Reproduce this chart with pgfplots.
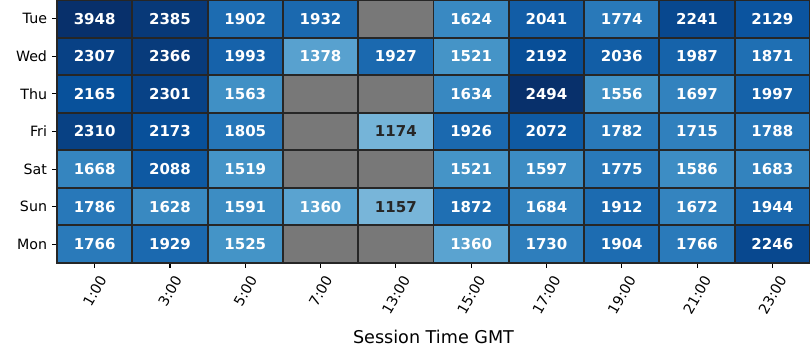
\documentclass[border=0pt]{standalone}
\usepackage{fontspec}
\setmainfont{DejaVu Sans}
\usepackage{graphicx}
\usepackage{pgfplots}
\pgfplotsset{compat=1.18}
\definecolor{gridc}{HTML}{262626}
\definecolor{txtdark}{HTML}{262626}
\pgfplotsset{colormap={bluesx}{
rgb255(0pt)=(247,251,255)
rgb255(30.875pt)=(222,235,247)
rgb255(61.75pt)=(198,219,239)
rgb255(92.625pt)=(158,202,225)
rgb255(123.5pt)=(107,174,214)
rgb255(154.375pt)=(66,146,198)
rgb255(185.25pt)=(33,113,181)
rgb255(216.125pt)=(8,81,156)
rgb255(247pt)=(8,48,107)
rgb255(450pt)=(8,48,107)
rgb255(460pt)=(120,120,120)
rgb255(500pt)=(120,120,120)
}}
\pgfplotstableread{
x y v
0 0 3948
1 0 2385
2 0 1902
3 0 1932
4 0 5000
5 0 1624
6 0 2041
7 0 1774
8 0 2241
9 0 2129
0 1 2307
1 1 2366
2 1 1993
3 1 1378
4 1 1927
5 1 1521
6 1 2192
7 1 2036
8 1 1987
9 1 1871
0 2 2165
1 2 2301
2 2 1563
3 2 5000
4 2 5000
5 2 1634
6 2 2494
7 2 1556
8 2 1697
9 2 1997
0 3 2310
1 3 2173
2 3 1805
3 3 5000
4 3 1174
5 3 1926
6 3 2072
7 3 1782
8 3 1715
9 3 1788
0 4 1668
1 4 2088
2 4 1519
3 4 5000
4 4 5000
5 4 1521
6 4 1597
7 4 1775
8 4 1586
9 4 1683
0 5 1786
1 5 1628
2 5 1591
3 5 1360
4 5 1157
5 5 1872
6 5 1684
7 5 1912
8 5 1672
9 5 1944
0 6 1766
1 6 1929
2 6 1525
3 6 5000
4 6 5000
5 6 1360
6 6 1730
7 6 1904
8 6 1766
9 6 2246
}\heat
\pgfplotstableread{
x y t
0 0 3948
1 0 2385
2 0 1902
3 0 1932
5 0 1624
6 0 2041
7 0 1774
8 0 2241
9 0 2129
0 1 2307
1 1 2366
2 1 1993
3 1 1378
4 1 1927
5 1 1521
6 1 2192
7 1 2036
8 1 1987
9 1 1871
0 2 2165
1 2 2301
2 2 1563
5 2 1634
6 2 2494
7 2 1556
8 2 1697
9 2 1997
0 3 2310
1 3 2173
2 3 1805
5 3 1926
6 3 2072
7 3 1782
8 3 1715
9 3 1788
0 4 1668
1 4 2088
2 4 1519
5 4 1521
6 4 1597
7 4 1775
8 4 1586
9 4 1683
0 5 1786
1 5 1628
2 5 1591
3 5 1360
5 5 1872
6 5 1684
7 5 1912
8 5 1672
9 5 1944
0 6 1766
1 6 1929
2 6 1525
5 6 1360
6 6 1730
7 6 1904
8 6 1766
9 6 2246
}\whitelabels
\pgfplotstableread{
x y t
4 3 1174
4 5 1157
}\darklabels
\begin{document}
\begin{tikzpicture}
\begin{axis}[
  name=ax, scale only axis, width=753bp, height=263bp,
  xmin=-0.5, xmax=9.5, ymin=-0.5, ymax=6.5, y dir=reverse,
  enlargelimits=false, axis on top,
  colormap name=bluesx, point meta min=0, point meta max=5000,
  xtick={0,...,9},
  xticklabels={\rotatebox{60}{1:00},\rotatebox{60}{3:00},\rotatebox{60}{5:00},\rotatebox{60}{7:00},\rotatebox{60}{13:00},\rotatebox{60}{15:00},\rotatebox{60}{17:00},\rotatebox{60}{19:00},\rotatebox{60}{21:00},\rotatebox{60}{23:00}},
  ytick={0,...,6},
  yticklabels={Tue,Wed,Thu,Fri,Sat,Sun,Mon},
  xtick pos=bottom, ytick pos=left,
  tick align=outside, major tick length=4.9bp,
  major tick style={black, line width=1.1bp},
  minor xtick={0.5,1.5,...,8.5}, minor ytick={0.5,1.5,...,5.5},
  minor tick length=0pt,
  xminorgrids, yminorgrids,
  minor grid style={gridc, line width=1.9bp},
  axis line style={gridc, line width=1.9bp},
  tick label style={font=\fontsize{14.2bp}{16bp}\selectfont, black},
  xticklabel style={anchor=north, inner sep=0pt, yshift=-6.5bp},
  yticklabel style={anchor=east, inner sep=0pt, xshift=-4.9bp},
  xlabel={Session Time GMT},
  xlabel style={font=\fontsize{17.6bp}{20bp}\selectfont, at={(axis description cs:0.5,0)}, anchor=base, yshift=-80.5bp},
]
\addplot[matrix plot*, mesh/cols=10, point meta=explicit] table[x=x,y=y,meta=v] {\heat};
\addplot[draw=none, mark=none, nodes near coords, point meta=explicit symbolic,
  every node near coord/.append style={anchor=center, inner sep=0pt, white, font=\fontsize{15bp}{17bp}\selectfont\bfseries}]
  table[x=x,y=y,meta=t] {\whitelabels};
\addplot[draw=none, mark=none, nodes near coords, point meta=explicit symbolic,
  every node near coord/.append style={anchor=center, inner sep=0pt, txtdark, font=\fontsize{15bp}{17bp}\selectfont\bfseries}]
  table[x=x,y=y,meta=t] {\darklabels};
\end{axis}
\pgfresetboundingbox
\path ([shift={(-57bp,-97bp)}]ax.south west) rectangle (ax.north east);
\end{tikzpicture}
\end{document}
